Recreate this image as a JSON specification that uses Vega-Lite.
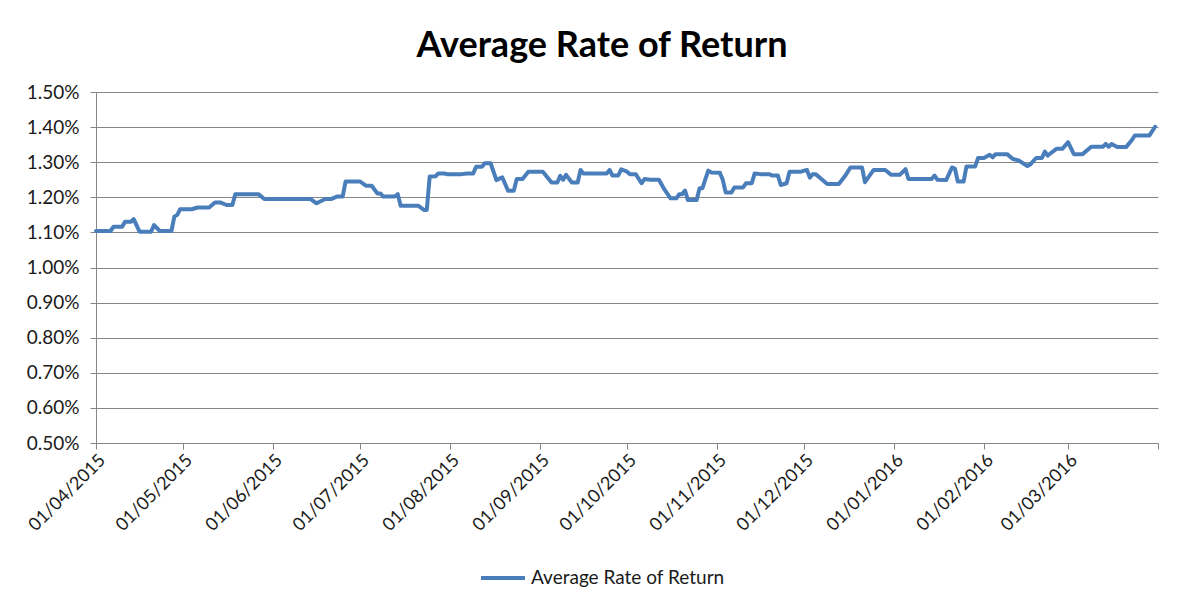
{
  "$schema": "https://vega.github.io/schema/vega-lite/v6.json",
  "autosize": "none",
  "width": 1062,
  "height": 351,
  "padding": {"left": 96, "top": 92, "right": 39, "bottom": 147},
  "background": "white",
  "title": {
    "text": "Average Rate of Return",
    "font": "Lato",
    "fontSize": 36,
    "fontWeight": "bold",
    "color": "#000000",
    "anchor": "middle",
    "baseline": "alphabetic",
    "offset": 35,
    "dx": -25,
    "dy": 45
  },
  "data": {
    "values": [
      {"date": "2015-04-01", "rate": 1.104},
      {"date": "2015-04-06", "rate": 1.104},
      {"date": "2015-04-07", "rate": 1.116},
      {"date": "2015-04-10", "rate": 1.116},
      {"date": "2015-04-11", "rate": 1.130},
      {"date": "2015-04-13", "rate": 1.130},
      {"date": "2015-04-14", "rate": 1.138},
      {"date": "2015-04-16", "rate": 1.102},
      {"date": "2015-04-20", "rate": 1.102},
      {"date": "2015-04-21", "rate": 1.121},
      {"date": "2015-04-23", "rate": 1.104},
      {"date": "2015-04-27", "rate": 1.104},
      {"date": "2015-04-28", "rate": 1.145},
      {"date": "2015-04-29", "rate": 1.150},
      {"date": "2015-04-30", "rate": 1.166},
      {"date": "2015-05-04", "rate": 1.166},
      {"date": "2015-05-06", "rate": 1.171},
      {"date": "2015-05-10", "rate": 1.171},
      {"date": "2015-05-12", "rate": 1.185},
      {"date": "2015-05-14", "rate": 1.185},
      {"date": "2015-05-16", "rate": 1.178},
      {"date": "2015-05-18", "rate": 1.178},
      {"date": "2015-05-19", "rate": 1.209},
      {"date": "2015-05-27", "rate": 1.209},
      {"date": "2015-05-29", "rate": 1.195},
      {"date": "2015-06-14", "rate": 1.195},
      {"date": "2015-06-16", "rate": 1.183},
      {"date": "2015-06-19", "rate": 1.195},
      {"date": "2015-06-21", "rate": 1.195},
      {"date": "2015-06-23", "rate": 1.202},
      {"date": "2015-06-25", "rate": 1.202},
      {"date": "2015-06-26", "rate": 1.245},
      {"date": "2015-07-01", "rate": 1.245},
      {"date": "2015-07-03", "rate": 1.233},
      {"date": "2015-07-05", "rate": 1.233},
      {"date": "2015-07-07", "rate": 1.211},
      {"date": "2015-07-08", "rate": 1.211},
      {"date": "2015-07-09", "rate": 1.202},
      {"date": "2015-07-13", "rate": 1.202},
      {"date": "2015-07-14", "rate": 1.209},
      {"date": "2015-07-15", "rate": 1.176},
      {"date": "2015-07-21", "rate": 1.176},
      {"date": "2015-07-23", "rate": 1.164},
      {"date": "2015-07-24", "rate": 1.164},
      {"date": "2015-07-25", "rate": 1.259},
      {"date": "2015-07-27", "rate": 1.260},
      {"date": "2015-07-28", "rate": 1.268},
      {"date": "2015-07-30", "rate": 1.268},
      {"date": "2015-07-31", "rate": 1.266},
      {"date": "2015-08-05", "rate": 1.266},
      {"date": "2015-08-07", "rate": 1.268},
      {"date": "2015-08-09", "rate": 1.268},
      {"date": "2015-08-10", "rate": 1.287},
      {"date": "2015-08-12", "rate": 1.287},
      {"date": "2015-08-13", "rate": 1.297},
      {"date": "2015-08-15", "rate": 1.297},
      {"date": "2015-08-17", "rate": 1.249},
      {"date": "2015-08-19", "rate": 1.257},
      {"date": "2015-08-21", "rate": 1.219},
      {"date": "2015-08-23", "rate": 1.219},
      {"date": "2015-08-24", "rate": 1.252},
      {"date": "2015-08-26", "rate": 1.252},
      {"date": "2015-08-28", "rate": 1.273},
      {"date": "2015-09-02", "rate": 1.273},
      {"date": "2015-09-05", "rate": 1.242},
      {"date": "2015-09-07", "rate": 1.242},
      {"date": "2015-09-08", "rate": 1.261},
      {"date": "2015-09-09", "rate": 1.250},
      {"date": "2015-09-10", "rate": 1.264},
      {"date": "2015-09-12", "rate": 1.242},
      {"date": "2015-09-14", "rate": 1.242},
      {"date": "2015-09-15", "rate": 1.278},
      {"date": "2015-09-16", "rate": 1.268},
      {"date": "2015-09-24", "rate": 1.268},
      {"date": "2015-09-25", "rate": 1.278},
      {"date": "2015-09-26", "rate": 1.262},
      {"date": "2015-09-28", "rate": 1.262},
      {"date": "2015-09-29", "rate": 1.280},
      {"date": "2015-10-01", "rate": 1.273},
      {"date": "2015-10-02", "rate": 1.266},
      {"date": "2015-10-04", "rate": 1.266},
      {"date": "2015-10-06", "rate": 1.240},
      {"date": "2015-10-07", "rate": 1.252},
      {"date": "2015-10-09", "rate": 1.250},
      {"date": "2015-10-12", "rate": 1.250},
      {"date": "2015-10-14", "rate": 1.221},
      {"date": "2015-10-16", "rate": 1.197},
      {"date": "2015-10-18", "rate": 1.197},
      {"date": "2015-10-19", "rate": 1.209},
      {"date": "2015-10-20", "rate": 1.209},
      {"date": "2015-10-21", "rate": 1.219},
      {"date": "2015-10-22", "rate": 1.192},
      {"date": "2015-10-25", "rate": 1.192},
      {"date": "2015-10-26", "rate": 1.226},
      {"date": "2015-10-27", "rate": 1.226},
      {"date": "2015-10-29", "rate": 1.276},
      {"date": "2015-10-30", "rate": 1.271},
      {"date": "2015-11-02", "rate": 1.270},
      {"date": "2015-11-03", "rate": 1.250},
      {"date": "2015-11-04", "rate": 1.214},
      {"date": "2015-11-06", "rate": 1.214},
      {"date": "2015-11-07", "rate": 1.228},
      {"date": "2015-11-10", "rate": 1.228},
      {"date": "2015-11-11", "rate": 1.240},
      {"date": "2015-11-13", "rate": 1.240},
      {"date": "2015-11-14", "rate": 1.268},
      {"date": "2015-11-16", "rate": 1.266},
      {"date": "2015-11-19", "rate": 1.266},
      {"date": "2015-11-20", "rate": 1.262},
      {"date": "2015-11-22", "rate": 1.262},
      {"date": "2015-11-23", "rate": 1.235},
      {"date": "2015-11-25", "rate": 1.240},
      {"date": "2015-11-26", "rate": 1.273},
      {"date": "2015-11-30", "rate": 1.273},
      {"date": "2015-12-02", "rate": 1.278},
      {"date": "2015-12-03", "rate": 1.256},
      {"date": "2015-12-04", "rate": 1.266},
      {"date": "2015-12-05", "rate": 1.266},
      {"date": "2015-12-07", "rate": 1.252},
      {"date": "2015-12-09", "rate": 1.238},
      {"date": "2015-12-13", "rate": 1.238},
      {"date": "2015-12-15", "rate": 1.259},
      {"date": "2015-12-17", "rate": 1.285},
      {"date": "2015-12-21", "rate": 1.285},
      {"date": "2015-12-22", "rate": 1.243},
      {"date": "2015-12-25", "rate": 1.278},
      {"date": "2015-12-29", "rate": 1.278},
      {"date": "2015-12-31", "rate": 1.264},
      {"date": "2016-01-03", "rate": 1.264},
      {"date": "2016-01-05", "rate": 1.280},
      {"date": "2016-01-06", "rate": 1.252},
      {"date": "2016-01-14", "rate": 1.252},
      {"date": "2016-01-15", "rate": 1.262},
      {"date": "2016-01-16", "rate": 1.250},
      {"date": "2016-01-19", "rate": 1.249},
      {"date": "2016-01-21", "rate": 1.285},
      {"date": "2016-01-22", "rate": 1.282},
      {"date": "2016-01-23", "rate": 1.245},
      {"date": "2016-01-25", "rate": 1.245},
      {"date": "2016-01-26", "rate": 1.288},
      {"date": "2016-01-29", "rate": 1.288},
      {"date": "2016-01-30", "rate": 1.312},
      {"date": "2016-02-01", "rate": 1.312},
      {"date": "2016-02-03", "rate": 1.321},
      {"date": "2016-02-04", "rate": 1.314},
      {"date": "2016-02-05", "rate": 1.323},
      {"date": "2016-02-09", "rate": 1.323},
      {"date": "2016-02-11", "rate": 1.309},
      {"date": "2016-02-13", "rate": 1.305},
      {"date": "2016-02-16", "rate": 1.289},
      {"date": "2016-02-17", "rate": 1.294},
      {"date": "2016-02-19", "rate": 1.312},
      {"date": "2016-02-21", "rate": 1.312},
      {"date": "2016-02-22", "rate": 1.330},
      {"date": "2016-02-23", "rate": 1.319},
      {"date": "2016-02-26", "rate": 1.338},
      {"date": "2016-02-28", "rate": 1.338},
      {"date": "2016-03-01", "rate": 1.357},
      {"date": "2016-03-03", "rate": 1.323},
      {"date": "2016-03-06", "rate": 1.323},
      {"date": "2016-03-09", "rate": 1.344},
      {"date": "2016-03-13", "rate": 1.344},
      {"date": "2016-03-14", "rate": 1.352},
      {"date": "2016-03-15", "rate": 1.344},
      {"date": "2016-03-16", "rate": 1.352},
      {"date": "2016-03-18", "rate": 1.343},
      {"date": "2016-03-21", "rate": 1.343},
      {"date": "2016-03-23", "rate": 1.363},
      {"date": "2016-03-24", "rate": 1.376},
      {"date": "2016-03-29", "rate": 1.376},
      {"date": "2016-03-31", "rate": 1.401}
    ]
  },
  "mark": {"type": "line", "strokeWidth": 4, "strokeJoin": "round", "strokeCap": "round"},
  "encoding": {
    "x": {
      "field": "date",
      "type": "temporal",
      "scale": {
        "type": "utc",
        "domain": [
          {"year": 2015, "month": 4, "date": 1, "utc": true},
          {"year": 2016, "month": 4, "date": 1, "utc": true}
        ],
        "nice": false
      },
      "axis": {
        "title": null,
        "grid": false,
        "format": "%d/%m/%Y",
        "values": [
          {"year": 2015, "month": 4, "date": 1, "utc": true},
          {"year": 2015, "month": 5, "date": 1, "utc": true},
          {"year": 2015, "month": 6, "date": 1, "utc": true},
          {"year": 2015, "month": 7, "date": 1, "utc": true},
          {"year": 2015, "month": 8, "date": 1, "utc": true},
          {"year": 2015, "month": 9, "date": 1, "utc": true},
          {"year": 2015, "month": 10, "date": 1, "utc": true},
          {"year": 2015, "month": 11, "date": 1, "utc": true},
          {"year": 2015, "month": 12, "date": 1, "utc": true},
          {"year": 2016, "month": 1, "date": 1, "utc": true},
          {"year": 2016, "month": 2, "date": 1, "utc": true},
          {"year": 2016, "month": 3, "date": 1, "utc": true},
          {"year": 2016, "month": 4, "date": 1, "utc": true}
        ],
        "labelExpr": "month(datum.value) == 3 && year(datum.value) == 2016 ? '' : datum.label",
        "labelAngle": -45,
        "labelAlign": "right",
        "labelBaseline": "top",
        "labelPadding": 2,
        "labelFont": "Lato",
        "labelFontSize": 18,
        "labelColor": "#1a1a1a",
        "labelOverlap": false,
        "labelFlush": false,
        "tickSize": 6,
        "tickColor": "#868686",
        "domainColor": "#868686"
      }
    },
    "y": {
      "field": "rate",
      "type": "quantitative",
      "scale": {"domain": [0.5, 1.5], "nice": false, "zero": false},
      "axis": {
        "title": null,
        "values": [0.5, 0.6, 0.7, 0.8, 0.9, 1.0, 1.1, 1.2, 1.3, 1.4, 1.5],
        "labelExpr": "format(datum.value, '.2f') + '%'",
        "labelFont": "Lato",
        "labelFontSize": 19,
        "labelColor": "#1a1a1a",
        "labelPadding": 11,
        "tickSize": 6,
        "tickColor": "#868686",
        "domainColor": "#868686",
        "grid": true,
        "gridColor": "#868686",
        "gridOpacity": 1
      }
    },
    "color": {
      "datum": "Average Rate of Return",
      "type": "nominal",
      "scale": {"range": ["#4A7EBB"]},
      "legend": {
        "title": null,
        "orient": "none",
        "legendX": 383,
        "legendY": 462,
        "symbolType": "stroke",
        "symbolSize": 1936,
        "symbolStrokeWidth": 4,
        "labelFont": "Lato",
        "labelFontSize": 19,
        "labelColor": "#1a1a1a",
        "labelOffset": 4,
        "labelLimit": 500
      }
    }
  },
  "config": {
    "view": {"stroke": null}
  }
}
